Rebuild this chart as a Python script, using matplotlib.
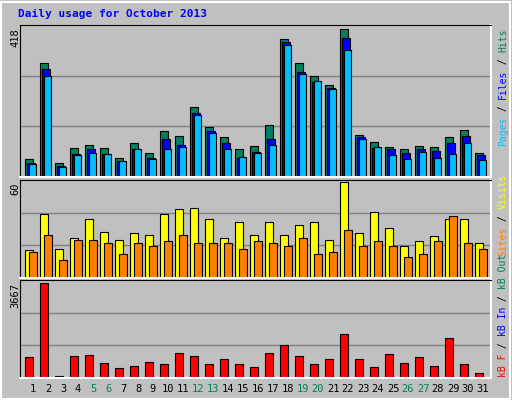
import numpy as np
import matplotlib.pyplot as plt

days = np.arange(1, 32)
hits = [52, 324, 41, 83, 92, 83, 55, 97, 69, 129, 117, 197, 143, 114, 80, 89,
        146, 392, 324, 287, 262, 418, 120, 100, 86, 80, 89, 86, 114, 134, 69]
files = [41, 307, 32, 66, 78, 66, 44, 80, 55, 109, 92, 180, 129, 97, 55, 72,
         109, 381, 296, 270, 253, 395, 112, 83, 78, 69, 78, 75, 97, 117, 61]
pages = [38, 285, 29, 61, 69, 66, 44, 80, 52, 80, 86, 177, 126, 78, 58, 69,
         92, 375, 293, 273, 248, 361, 109, 86, 61, 52, 72, 55, 66, 95, 49]
visits = [17.6, 40, 18, 25, 37, 29, 24, 28, 27, 40, 43, 44, 37, 25, 35, 27,
          35, 27, 33, 35, 24, 60, 28, 41, 31, 20, 23, 26, 37, 37, 22]
sites = [16, 27, 11, 24, 24, 22, 15, 22, 20, 23, 27, 22, 22, 22, 18, 23,
         22, 20, 25, 15, 16, 30, 20, 23, 20, 13, 15, 23, 39, 22, 18]
kbytes = [816, 3667, 94, 857, 897, 575, 375, 455, 616, 535, 977, 857, 535, 736,
          535, 415, 977, 1258, 857, 535, 736, 1700, 736, 415, 937, 575, 816,
          455, 1539, 535, 174]
weekends = [5, 6, 12, 13, 19, 20, 26, 27]

W, H = 512, 400
bg = '#c0c0c0'
mono = 'DejaVu Sans Mono'
fig = plt.figure(figsize=(W / 100, H / 100), dpi=100, facecolor=bg)


def add_axes(top, bottom):
    ax = fig.add_axes([20 / W, 1 - bottom / H, 471 / W, (bottom - top) / H])
    ax.set_facecolor(bg)
    ax.set_xlim(0.5, 0.5 + 471 / 15)
    ax.set_xticks([])
    ax.set_yticks([])
    for s in ['left', 'top']:
        ax.spines[s].set_color('black')
    for s in ['bottom', 'right']:
        ax.spines[s].set_color('white')
        ax.spines[s].set_linewidth(1.5)
    return ax


edge = dict(edgecolor='black', linewidth=0.8)

ax1 = add_axes(25, 177)
ax1.set_ylim(0, 418 * 1.03)
for g in (1 / 3, 2 / 3):
    ax1.axhline(418 * 1.03 * g, color='#808080', lw=1, zorder=0)
ax1.bar(days - 0.5 + 0.33, hits, 0.53, align='edge', color='#00805c', **edge)
ax1.bar(days - 0.5 + 0.46, files, 0.53, align='edge', color='#0000ff', **edge)
ax1.bar(days - 0.5 + 0.59, pages, 0.5, align='edge', color='#00c0ff', **edge)

ax2 = add_axes(180, 278)
ax2.set_ylim(0, 60 * 1.02)
for g in (1 / 3, 2 / 3):
    ax2.axhline(60 * 1.02 * g, color='#808080', lw=1, zorder=0)
ax2.bar(days - 0.5 + 0.33, visits, 0.53, align='edge', color='#ffff00', **edge)
ax2.bar(days - 0.5 + 0.59, sites, 0.53, align='edge', color='#ff8000', **edge)

ax3 = add_axes(280, 378)
ax3.set_ylim(0, 3667 * 1.03)
for g in (1 / 3, 2 / 3):
    ax3.axhline(3667 * 1.03 * g, color='#808080', lw=1, zorder=0)
ax3.bar(days - 0.5 + 0.33, kbytes, 0.53, align='edge', color='#ff0000', **edge)

for d in days:
    fig.text((33 + (d - 1) * 15) / W, 1 - 389 / H, str(d),
             ha='center', va='center', fontsize=7.5, family=mono,
             color='#00805c' if d in weekends else 'black')

fig.text(18 / W, 1 - 14 / H, 'Daily usage for October 2013', color='#0000ff',
         fontsize=8, family=mono, fontweight='bold', va='center')

for lbl, y in [('418', 28), ('60', 182), ('3667', 283)]:
    fig.text(15 / W, 1 - y / H, lbl, rotation=90, ha='center', va='top',
             fontsize=7.5, family=mono)


def side_label(parts, y_bottom):
    # parts listed bottom to top, drawn rotated in monospace
    step = 5.85
    y = y_bottom
    for txt, col in parts:
        fig.text(503 / W, 1 - y / H, txt, rotation=90, ha='center', va='bottom',
                 fontsize=7, family=mono, color=col)
        y -= step * len(txt)


side_label([('Pages', '#00c0ff'), (' / ', 'black'), ('Files', '#0000ff'),
            (' / ', 'black'), ('Hits', '#00805c')], 146)
side_label([('Sites', '#ff8000'), (' / ', 'black'), ('Visits', '#ffff00')], 256)
side_label([('kB F', '#ff0000'), (' / ', 'black'), ('kB In', '#0000ff'),
            (' / ', 'black'), ('kB Out', '#00805c')], 377)

# outer frame
fig.add_artist(plt.Rectangle((1 / W, 1 / H), 1 - 3 / W, 1 - 3 / H,
                             transform=fig.transFigure, fill=False,
                             edgecolor='white', lw=1.5))

fig.savefig('out.png', dpi=100, facecolor=bg)
